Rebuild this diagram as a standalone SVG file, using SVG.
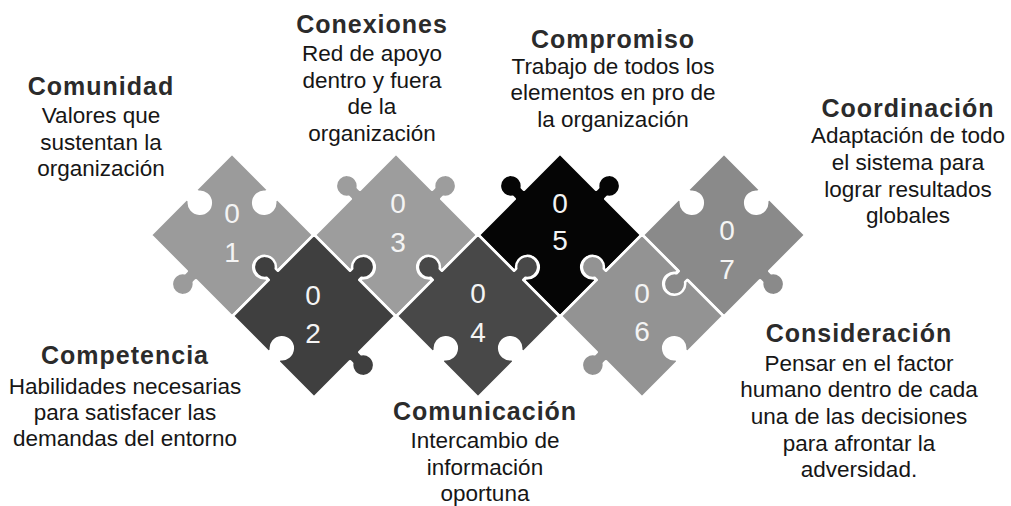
<svg xmlns="http://www.w3.org/2000/svg" width="1011" height="506" viewBox="0 0 1011 506">
<style>
.pc{stroke:#fff;stroke-width:2.5;stroke-linejoin:round}
.num{font-family:"Liberation Sans",Arial,sans-serif;font-size:28px;fill:#f4f4f4;text-anchor:middle}
.hd{font-family:"Liberation Sans",Arial,sans-serif;font-size:25px;font-weight:bold;fill:#2b2b2b;text-anchor:middle;letter-spacing:1px}
.bd{font-family:"Liberation Sans",Arial,sans-serif;font-size:22.5px;fill:#161616;text-anchor:middle}
</style>
<defs>
<!-- NE hole, SE hole, SW knob, NW hole -->
<path id="pA" d="M -57.5 -57.5 L -6.5 -57.5 L -6.5 -54.4 A 11 11 0 1 0 6.5 -54.4 L 6.5 -57.5 L 57.5 -57.5 L 57.5 -6.5 L 54.4 -6.5 A 11 11 0 1 0 54.4 6.5 L 57.5 6.5 L 57.5 57.5 L 6.5 57.5 L 6.5 60.6 A 11 11 0 1 1 -6.5 60.6 L -6.5 57.5 L -57.5 57.5 L -57.5 6.5 L -54.4 6.5 A 11 11 0 1 0 -54.4 -6.5 L -57.5 -6.5 Z"/>
<!-- NE knob, SE knob, SW hole, NW knob -->
<path id="pB" d="M -57.5 -57.5 L -6.5 -57.5 L -6.5 -60.6 A 11 11 0 1 1 6.5 -60.6 L 6.5 -57.5 L 57.5 -57.5 L 57.5 -6.5 L 60.6 -6.5 A 11 11 0 1 1 60.6 6.5 L 57.5 6.5 L 57.5 57.5 L 6.5 57.5 L 6.5 54.4 A 11 11 0 1 0 -6.5 54.4 L -6.5 57.5 L -57.5 57.5 L -57.5 6.5 L -60.6 6.5 A 11 11 0 1 1 -60.6 -6.5 L -57.5 -6.5 Z"/>
<!-- NE knob, SE hole, SW hole, NW knob -->
<path id="pC" d="M -57.5 -57.5 L -6.5 -57.5 L -6.5 -60.6 A 11 11 0 1 1 6.5 -60.6 L 6.5 -57.5 L 57.5 -57.5 L 57.5 -6.5 L 54.4 -6.5 A 11 11 0 1 0 54.4 6.5 L 57.5 6.5 L 57.5 57.5 L 6.5 57.5 L 6.5 54.4 A 11 11 0 1 0 -6.5 54.4 L -6.5 57.5 L -57.5 57.5 L -57.5 6.5 L -60.6 6.5 A 11 11 0 1 1 -60.6 -6.5 L -57.5 -6.5 Z"/>
<!-- NE hole, SE hole, SW knob, NW knob -->
<path id="pD" d="M -57.5 -57.5 L -6.5 -57.5 L -6.5 -54.4 A 11 11 0 1 0 6.5 -54.4 L 6.5 -57.5 L 57.5 -57.5 L 57.5 -6.5 L 54.4 -6.5 A 11 11 0 1 0 54.4 6.5 L 57.5 6.5 L 57.5 57.5 L 6.5 57.5 L 6.5 60.6 A 11 11 0 1 1 -6.5 60.6 L -6.5 57.5 L -57.5 57.5 L -57.5 6.5 L -60.6 6.5 A 11 11 0 1 1 -60.6 -6.5 L -57.5 -6.5 Z"/>
<!-- NE hole, SE knob, SW knob, NW hole -->
<path id="pE" d="M -57.5 -57.5 L -6.5 -57.5 L -6.5 -54.4 A 11 11 0 1 0 6.5 -54.4 L 6.5 -57.5 L 57.5 -57.5 L 57.5 -6.5 L 60.6 -6.5 A 11 11 0 1 1 60.6 6.5 L 57.5 6.5 L 57.5 57.5 L 6.5 57.5 L 6.5 60.6 A 11 11 0 1 1 -6.5 60.6 L -6.5 57.5 L -57.5 57.5 L -57.5 6.5 L -54.4 6.5 A 11 11 0 1 0 -54.4 -6.5 L -57.5 -6.5 Z"/>
</defs>
<rect width="1011" height="506" fill="#fff"/>
<g id="connectors"></g>
<g id="piece01">
<use href="#pA" class="pc" fill="#9b9b9b" transform="translate(232,235) rotate(45)"/>
<text class="num" x="232" y="223">0</text><text class="num" x="232" y="262">1</text>
</g>
<g id="piece03">
<use href="#pC" class="pc" fill="#9d9d9d" transform="translate(396,235) rotate(45)"/>
<text class="num" x="398" y="213">0</text><text class="num" x="398" y="252">3</text>
</g>
<g id="piece05">
<use href="#pC" class="pc" fill="#050505" transform="translate(560,235) rotate(45)"/>
<text class="num" x="560" y="213">0</text><text class="num" x="560" y="250">5</text>
</g>
<g id="piece07">
<use href="#pE" class="pc" fill="#8a8a8a" transform="translate(724,235) rotate(45)"/>
<text class="num" x="727" y="240">0</text><text class="num" x="727" y="279">7</text>
</g>
<g id="piece02">
<use href="#pB" class="pc" fill="#3f3f3f" transform="translate(314,316) rotate(45)"/>
<text class="num" x="313" y="305">0</text><text class="num" x="313" y="343">2</text>
</g>
<g id="piece04">
<use href="#pC" class="pc" fill="#484848" transform="translate(478,316) rotate(45)"/>
<text class="num" x="478" y="303">0</text><text class="num" x="478" y="342">4</text>
</g>
<g id="piece06">
<use href="#pD" class="pc" fill="#939393" transform="translate(642,316) rotate(45)"/>
<text class="num" x="642" y="303">0</text><text class="num" x="642" y="341">6</text>
</g>
<g id="label-comunidad">
<text class="hd" x="101" y="95">Comunidad</text>
<text class="bd" x="101" y="123">Valores que</text>
<text class="bd" x="101" y="150">sustentan la</text>
<text class="bd" x="101" y="176">organización</text>
</g>
<g id="label-conexiones">
<text class="hd" x="372" y="33">Conexiones</text>
<text class="bd" x="372" y="61">Red de apoyo</text>
<text class="bd" x="372" y="88">dentro y fuera</text>
<text class="bd" x="372" y="114">de la</text>
<text class="bd" x="372" y="141">organización</text>
</g>
<g id="label-compromiso">
<text class="hd" x="613" y="48">Compromiso</text>
<text class="bd" x="613" y="74">Trabajo de todos los</text>
<text class="bd" x="613" y="100">elementos en pro de</text>
<text class="bd" x="613" y="127">la organización</text>
</g>
<g id="label-coordinacion">
<text class="hd" x="908" y="117">Coordinación</text>
<text class="bd" x="908" y="143">Adaptación de todo</text>
<text class="bd" x="908" y="170">el sistema para</text>
<text class="bd" x="908" y="197">lograr resultados</text>
<text class="bd" x="908" y="223">globales</text>
</g>
<g id="label-competencia">
<text class="hd" x="125" y="364">Competencia</text>
<text class="bd" x="125" y="394">Habilidades necesarias</text>
<text class="bd" x="125" y="420">para satisfacer las</text>
<text class="bd" x="125" y="446">demandas del entorno</text>
</g>
<g id="label-comunicacion">
<text class="hd" x="485" y="420">Comunicación</text>
<text class="bd" x="485" y="448">Intercambio de</text>
<text class="bd" x="485" y="475">información</text>
<text class="bd" x="485" y="501">oportuna</text>
</g>
<g id="label-consideracion">
<text class="hd" x="859" y="342" fill="#3a3a3a">Consideración</text>
<text class="bd" x="859" y="371">Pensar en el factor</text>
<text class="bd" x="859" y="397">humano dentro de cada</text>
<text class="bd" x="859" y="424">una de las decisiones</text>
<text class="bd" x="859" y="451">para afrontar la</text>
<text class="bd" x="859" y="477">adversidad.</text>
</g>
</svg>
